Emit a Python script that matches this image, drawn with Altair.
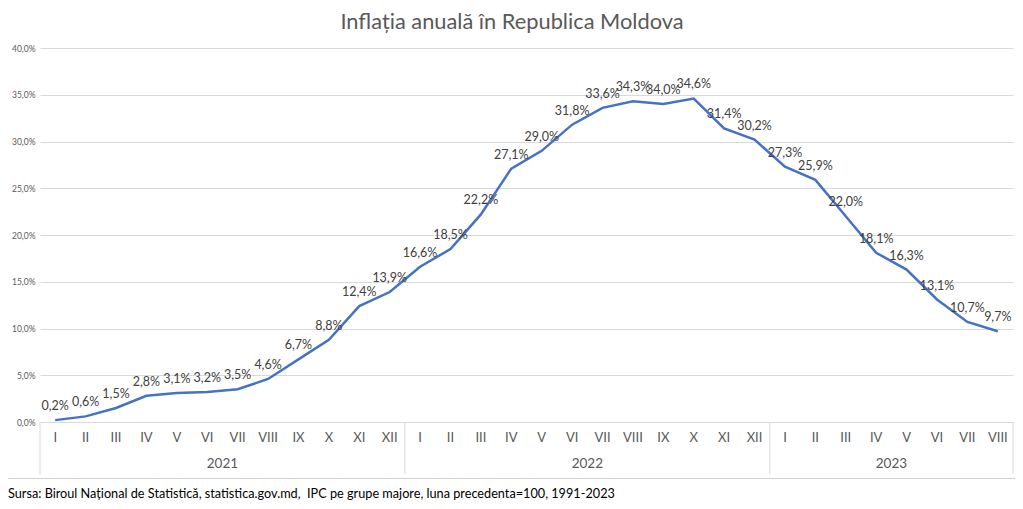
import altair as alt
import pandas as pd

months = ["I", "II", "III", "IV", "V", "VI", "VII", "VIII", "IX", "X", "XI", "XII",
          "I", "II", "III", "IV", "V", "VI", "VII", "VIII", "IX", "X", "XI", "XII",
          "I", "II", "III", "IV", "V", "VI", "VII", "VIII"]
inflation = [0.2, 0.6, 1.5, 2.8, 3.1, 3.2, 3.5, 4.6, 6.7, 8.8, 12.4, 13.9,
             16.6, 18.5, 22.2, 27.1, 29.0, 31.8, 33.6, 34.3, 34.0, 34.6, 31.4, 30.2,
             27.3, 25.9, 22.0, 18.1, 16.3, 13.1, 10.7, 9.7]
years = ["2021", "2022", "2023"]
year_start = [0, 12, 24]
year_end = [12, 24, 32]
y_ticks = [0, 5, 10, 15, 20, 25, 30, 35, 40]

title = "Inflația anuală în Republica Moldova"
source = "Sursa: Biroul Național de Statistică, statistica.gov.md,\u00a0 IPC pe grupe majore, luna precedenta=100, 1991-2023"

FONT = "Lato"
W, H = 973, 374

df = pd.DataFrame({"idx": list(range(len(months))), "month": months, "v": inflation})
df["pos"] = df["idx"] + 0.5
dy = pd.DataFrame({"year": years, "start": year_start, "end": year_end})
dy["mid"] = (dy["start"] + dy["end"]) / 2
bounds = pd.DataFrame({"b": [0] + year_end})

xs = alt.Scale(domain=[0, len(months)], nice=False, zero=False)
ys = alt.Scale(domain=[0, 40], nice=False)
yaxis = alt.Axis(values=y_ticks, labelExpr="replace(format(datum.value, '.1f'), '.', ',') + '%'",
                 domain=False, ticks=False, grid=True, gridColor="#d9d9d9", gridWidth=1,
                 labelFontSize=8.5, labelColor="#595959", labelFont=FONT,
                 labelPadding=5, title=None)

base = alt.Chart(df)

border = alt.Chart(pd.DataFrame({"a": ["frame"]})).mark_rect(
    fillOpacity=0, stroke="#d0d0d0", strokeWidth=1.2
).encode(x=alt.value(-35.5), x2=alt.value(978.5), y=alt.value(-45.5), y2=alt.value(430.5),
         detail="a:N")

line = base.mark_line(color="#4472C4", strokeWidth=2.5).encode(
    x=alt.X("pos:Q", scale=xs, axis=None),
    y=alt.Y("v:Q", scale=ys, axis=yaxis),
)

labels = base.transform_calculate(
    lab="replace(format(datum.v, '.1f'), '.', ',') + '%'"
).mark_text(fontSize=12.5, color="#404040", font=FONT, dy=-14).encode(
    x=alt.X("pos:Q", scale=xs, axis=None), y=alt.Y("v:Q", scale=ys, axis=yaxis), text="lab:N"
)

month_text = base.mark_text(fontSize=13, color="#595959", font=FONT, baseline="middle").encode(
    x=alt.X("pos:Q", scale=xs, axis=None), y=alt.value(H + 16), text="month:N"
)

year_text = alt.Chart(dy).mark_text(fontSize=13.5, color="#595959", font=FONT, baseline="middle").encode(
    x=alt.X("mid:Q", scale=xs, axis=None), y=alt.value(H + 42), text="year:N"
)

seps = alt.Chart(bounds).mark_rule(color="#d9d9d9", strokeWidth=1).encode(
    x=alt.X("b:Q", scale=xs, axis=None), y=alt.value(H), y2=alt.value(H + 52)
)

src = alt.Chart(pd.DataFrame({"s": [source]})).mark_text(
    fontSize=12.7, color="#000000", font=FONT, align="left", baseline="middle"
).encode(x=alt.value(-32), y=alt.value(446), text="s:N")

ttl = alt.Chart(pd.DataFrame({"s": [title]})).mark_text(
    fontSize=21.8, color="#595959", font=FONT, align="center", baseline="middle"
).encode(x=alt.value(472), y=alt.value(-26), text="s:N")

chart = alt.layer(border, seps, line, labels, month_text, year_text, src, ttl).properties(
    width=W, height=H,
    padding={"left": 32, "top": 40, "right": 2, "bottom": 79},
    autosize=alt.AutoSizeParams(type="none"),
    background="white",
).configure_view(strokeWidth=0)

chart.save("out.html", embed_options={"renderer": "svg", "actions": False})
